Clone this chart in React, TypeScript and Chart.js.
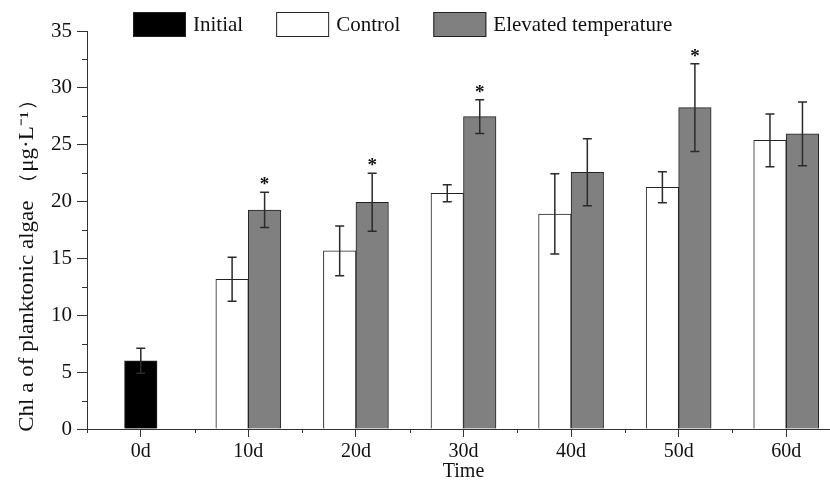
import { useEffect, useRef } from 'react';
import { Chart, registerables } from 'chart.js';

Chart.register(...registerables);

const categories = ['0d', '10d', '20d', '30d', '40d', '50d', '60d'];
const initialValues = [6.0, null, null, null, null, null, null];
const initialErrors = [1.1, null, null, null, null, null, null];
const controlValues = [null, 13.17, 15.66, 20.73, 18.91, 21.26, 25.39];
const controlErrors = [null, 1.94, 2.19, 0.75, 3.53, 1.36, 2.32];
const elevatedValues = [null, 19.26, 19.94, 27.47, 22.58, 28.26, 25.95];
const elevatedErrors = [null, 1.55, 2.55, 1.48, 2.95, 3.85, 2.81];
const elevatedSignificant = [false, true, true, true, false, true, false];
const seriesLabels = ['Initial', 'Control', 'Elevated temperature'];
const seriesFill = ['#000000', '#ffffff', '#808080'];
const yMin = 0;
const yMax = 35;
const yStep = 5;
const yMinorStep = 2.5;
const yTitle = 'Chl a of planktonic algae （μg·L⁻¹）';
const xTitle = 'Time';

const FONT = "'Liberation Serif', 'Times New Roman', serif";
const AXIS = '#333333';
const TEXT = '#111111';

const errorsByDataset = [initialErrors, controlErrors, elevatedErrors];

const errorBarPlugin = {
  id: 'errorBars',
  afterDatasetsDraw(chart: any) {
    const ctx = chart.ctx;
    const yScale = chart.scales.y;
    ctx.save();
    ctx.strokeStyle = '#2a2a2a';
    ctx.lineWidth = 1.5;
    chart.data.datasets.forEach((ds: any, d: number) => {
      const meta = chart.getDatasetMeta(d);
      const errs = errorsByDataset[d];
      meta.data.forEach((el: any, i: number) => {
        const v = ds.data[i];
        const e = errs[i];
        if (v == null || e == null) return;
        const x = el.x;
        const top = yScale.getPixelForValue(v + e);
        const bot = yScale.getPixelForValue(v - e);
        const cap = 4.5;
        ctx.beginPath();
        ctx.moveTo(x, top);
        ctx.lineTo(x, bot);
        ctx.moveTo(x - cap, top);
        ctx.lineTo(x + cap, top);
        ctx.moveTo(x - cap, bot);
        ctx.lineTo(x + cap, bot);
        ctx.stroke();
        if (d === 2 && elevatedSignificant[i]) {
          ctx.fillStyle = TEXT;
          ctx.font = `bold 19px ${FONT}`;
          ctx.textAlign = 'center';
          ctx.textBaseline = 'alphabetic';
          ctx.fillText('*', x, top - 2);
        }
      });
    });
    ctx.restore();
  },
};

const minorTickPlugin = {
  id: 'minorTicks',
  afterDraw(chart: any) {
    const ctx = chart.ctx;
    const { left, bottom } = chart.chartArea;
    const y = chart.scales.y;
    const x = chart.scales.x;
    ctx.save();
    ctx.strokeStyle = AXIS;
    ctx.lineWidth = 1;
    ctx.beginPath();
    for (let v = yMin + yMinorStep; v < yMax; v += yStep) {
      const py = Math.round(y.getPixelForValue(v)) + 0.5;
      ctx.moveTo(left - 5, py);
      ctx.lineTo(left, py);
    }
    const n = categories.length;
    const half = (x.getPixelForValue(1) - x.getPixelForValue(0)) / 2;
    for (let i = 0; i <= n; i++) {
      const px = Math.round(x.getPixelForValue(Math.min(i, n - 1)) + (i === n ? half : -half)) + 0.5;
      ctx.moveTo(px, bottom);
      ctx.lineTo(px, bottom + 4);
    }
    ctx.stroke();
    ctx.restore();
  },
};

const yTitlePlugin = {
  id: 'yTitle',
  afterDraw(chart: any) {
    const ctx = chart.ctx;
    const { top, bottom } = chart.chartArea;
    ctx.save();
    ctx.translate(28, (top + bottom) / 2 + 30);
    ctx.rotate(-Math.PI / 2);
    ctx.scale(1.15, 1);
    ctx.font = `20px ${FONT}`;
    ctx.fillStyle = TEXT;
    ctx.textAlign = 'center';
    ctx.textBaseline = 'middle';
    ctx.fillText(yTitle, 0, 0);
    ctx.restore();
  },
};

const legendPlugin = {
  id: 'customLegend',
  afterDraw(chart: any) {
    const ctx = chart.ctx;
    ctx.save();
    let x = 133;
    const y = 12;
    const bw = 53;
    const bh = 25;
    ctx.font = `21px ${FONT}`;
    ctx.textBaseline = 'middle';
    ctx.textAlign = 'left';
    chart.data.datasets.forEach((ds: any) => {
      ctx.fillStyle = ds.backgroundColor;
      ctx.fillRect(x, y, bw, bh);
      ctx.strokeStyle = '#222';
      ctx.lineWidth = 1;
      ctx.strokeRect(x + 0.5, y + 0.5, bw - 1, bh - 1);
      ctx.fillStyle = TEXT;
      ctx.fillText(ds.label, x + bw + 7, y + bh / 2 + 0.5);
      x += bw + 7 + ctx.measureText(ds.label).width + 33;
    });
    ctx.restore();
  },
};

export default function App() {
  const ref = useRef<HTMLCanvasElement | null>(null);
  useEffect(() => {
    if (!ref.current) return;
    Chart.defaults.font.family = FONT;
    Chart.defaults.color = TEXT;
    const mk = (i: number, data: any[]) => ({
      label: seriesLabels[i],
      data,
      backgroundColor: seriesFill[i],
      borderColor: '#222222',
      borderWidth: 1,
      barThickness: 32.5,
      skipNull: true,
    });
    const chart = new Chart(ref.current, {
      type: 'bar',
      data: {
        labels: categories,
        datasets: [mk(0, initialValues), mk(1, controlValues), mk(2, elevatedValues)],
      },
      options: {
        responsive: false,
        animation: false,
        devicePixelRatio: 1,
        layout: { padding: { top: 31, right: 2, bottom: 0, left: 0 } },
        plugins: { legend: { display: false }, tooltip: { enabled: false } },
        scales: {
          x: {
            type: 'category',
            offset: true,
            grid: { drawOnChartArea: false, drawTicks: true, tickLength: 8, offset: false, color: AXIS },
            border: { display: true, color: AXIS, width: 1 },
            ticks: { font: { size: 20 }, color: TEXT, padding: 3 },
            title: { display: true, text: xTitle, font: { size: 20, lineHeight: 1 }, color: TEXT, padding: { top: 0, bottom: -2 } },
            afterFit: (s: any) => { s.height = 51; },
          },
          y: {
            min: yMin,
            max: yMax,
            grid: { drawOnChartArea: false, drawTicks: true, tickLength: 10, color: AXIS },
            border: { display: true, color: AXIS, width: 1 },
            ticks: { stepSize: yStep, font: { size: 21 }, color: TEXT, padding: 5 },
            title: { display: false },
            afterFit: (s: any) => { s.width = 87; },
          },
        },
      },
      plugins: [errorBarPlugin, minorTickPlugin, legendPlugin, yTitlePlugin],
    } as any);
    return () => chart.destroy();
  }, []);
  return (
    <div style={{ position: 'fixed', left: 0, top: 0, width: 830, height: 480, overflow: 'hidden', background: '#fff' }}>
      <canvas ref={ref} width={842} height={480} style={{ width: 842, height: 480, display: 'block' }} />
    </div>
  );
}
